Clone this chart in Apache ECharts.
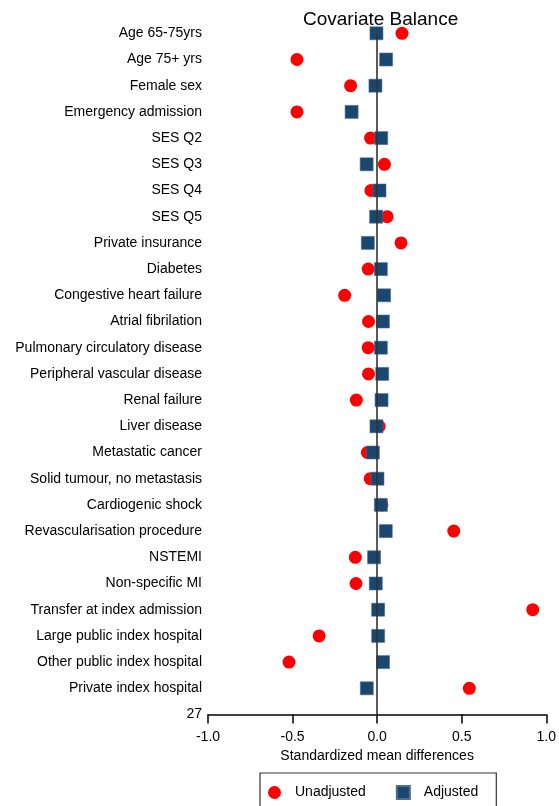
<!DOCTYPE html>
<html>
<head>
<meta charset="utf-8">
<script src="https://cdn.jsdelivr.net/npm/echarts@6/dist/echarts.min.js"></script>
<style>
html,body{margin:0;padding:0;background:#fff;}
#chart{width:559px;height:806px;}
</style>
</head>
<body>
<div id="chart"></div>
<script>
var categories = ['Age 65-75yrs','Age 75+ yrs','Female sex','Emergency admission','SES Q2','SES Q3','SES Q4','SES Q5','Private insurance','Diabetes','Congestive heart failure','Atrial fibrilation','Pulmonary circulatory disease','Peripheral vascular disease','Renal failure','Liver disease','Metastatic cancer','Solid tumour, no metastasis','Cardiogenic shock','Revascularisation procedure','NSTEMI','Non-specific MI','Transfer at index admission','Large public index hospital','Other public index hospital','Private index hospital'];
var unadjusted = [0.147,-0.474,-0.157,-0.474,-0.039,0.043,-0.037,0.059,0.141,-0.053,-0.192,-0.051,-0.053,-0.051,-0.123,0.012,-0.058,-0.041,0.028,0.453,-0.129,-0.125,0.920,-0.343,-0.521,0.545];
var adjusted = [-0.004,0.053,-0.010,-0.151,0.024,-0.062,0.014,-0.006,-0.055,0.022,0.041,0.034,0.022,0.030,0.026,-0.004,-0.025,0.002,0.022,0.051,-0.018,-0.008,0.006,0.006,0.035,-0.061];
var xTicks = [-1.0,-0.5,0.0,0.5,1.0];
var refLineX = 0;
var yEndLabel = '27';

var FONT = '"Liberation Sans", Arial, sans-serif';
function pts(arr){ return arr.map(function(v,i){ return [v, i+1]; }); }

var chart = echarts.init(document.getElementById('chart'), null, {renderer:'canvas'});
chart.setOption({
  animation:false,
  backgroundColor:'#fff',
  title:{
    text:'Covariate Balance',
    left:303, top:10, padding:0,
    textStyle:{fontFamily:FONT,fontSize:19,fontWeight:'normal',color:'#000'}
  },
  grid:{left:208, right:10.3, top:7.1, bottom:91.5, containLabel:false},
  xAxis:{
    type:'value', position:'bottom', min:xTicks[0], max:xTicks[xTicks.length-1], interval:0.5,
    name:'Standardized mean differences', nameLocation:'middle', nameGap:30,
    nameTextStyle:{fontFamily:FONT,fontSize:14,color:'#000'},
    axisLine:{show:true,onZero:false,lineStyle:{color:'#000',width:1.5}},
    axisTick:{show:true,length:9,lineStyle:{color:'#000',width:1.5}},
    axisLabel:{fontFamily:FONT,fontSize:14,color:'#000',margin:16,
      formatter:function(v){ return v.toFixed(1); }},
    splitLine:{show:false}
  },
  yAxis:{
    type:'value', inverse:true, min:0, max:categories.length+1, interval:1,
    axisLine:{show:false,onZero:false}, axisTick:{show:false}, splitLine:{show:false},
    axisLabel:{fontFamily:FONT,fontSize:14,color:'#000',margin:6,padding:[4,0,0,0],
      formatter:function(v){
        if(v>=1 && v<=categories.length) return categories[v-1];
        if(v===categories.length+1) return yEndLabel;
        return '';
      }}
  },
  legend:{
    left:260, top:773,
    orient:'horizontal',
    borderColor:'#333', borderWidth:1.2, borderRadius:0,
    padding:[12,18,14,8],
    itemGap:30, itemWidth:13, itemHeight:13,
    textStyle:{fontFamily:FONT,fontSize:14,color:'#000',padding:[0,0,0,9]},
    data:[{name:'Unadjusted',icon:'circle'},{name:'Adjusted',icon:'rect'}]
  },
  series:[
    {
      name:'Unadjusted', type:'scatter', symbol:'circle', symbolSize:13,
      itemStyle:{color:'#ff0000',opacity:1}, z:3,
      data:pts(unadjusted),
      markLine:{
        silent:true, symbol:'none', label:{show:false},
        lineStyle:{color:'#333',width:1.6,type:'solid'},
        data:[[{coord:[refLineX,1]},{coord:[refLineX,categories.length+1]}]]
      }
    },
    {
      name:'Adjusted', type:'scatter', symbol:'rect', symbolSize:13,
      itemStyle:{color:'#1a476f',borderColor:'#4a6f90',borderWidth:0.6,opacity:1}, z:4,
      data:pts(adjusted)
    }
  ]
});
</script>
</body>
</html>
